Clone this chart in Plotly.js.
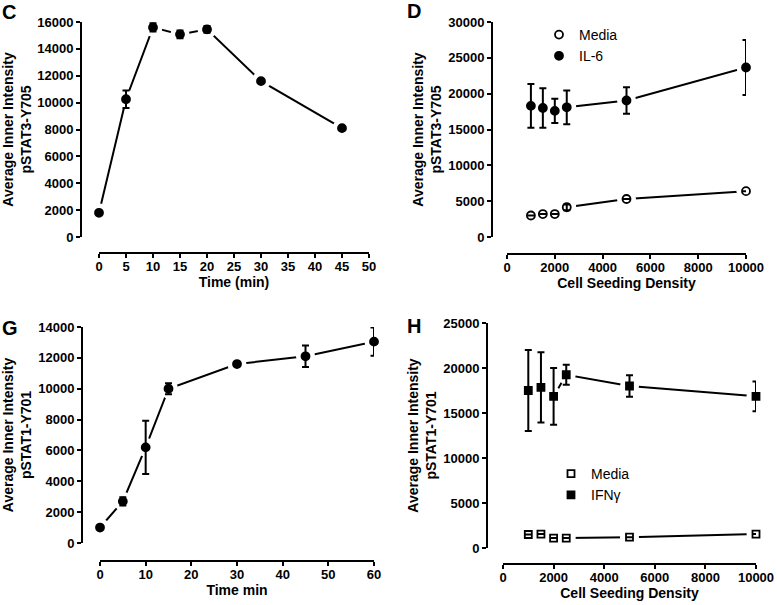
<!DOCTYPE html>
<html>
<head>
<meta charset="utf-8">
<script src="https://cdn.plot.ly/plotly-3.0.1.min.js"></script>
<style>
  html, body { margin: 0; padding: 0; background: white; }
  #myDiv { width: 777px; height: 605px; }
</style>
</head>
<body>
<div id="myDiv"></div>
<script>
// panel C: pSTAT3 time course
let timeC = [0, 5, 10, 15, 20, 30, 45];
let stat3Time = [1800, 10250, 15600, 15080, 15450, 11600, 8100];
let stat3TimeErr = [null, 650, 300, 280, 250, null, null];

// panel D / H: seeding density
let density = [1000, 1500, 2000, 2500, 5000, 10000];
let stat3Media = [3000, 3200, 3200, 4150, 5300, 6400];
let stat3MediaErr = [null, null, null, 400, null, null];
let stat3IL6 = [18300, 18000, 17600, 18100, 19050, 23650];
let stat3IL6Err = [3050, 2750, 1700, 2350, 1850, 3850];

// panel G: pSTAT1 time course
let timeG = [0, 5, 10, 15, 30, 45, 60];
let stat1Time = [1000, 2700, 6200, 10000, 11600, 12100, 13050];
let stat1TimeErr = [null, 270, 1730, 360, null, 700, 910];

// panel H
let stat1Media = [1500, 1550, 1100, 1100, 1200, 1550];
let stat1MediaErr = [null, null, null, null, null, null];
let stat1IFN = [17500, 17850, 16850, 19250, 18000, 16850];
let stat1IFNErr = [4500, 3900, 3150, 1100, 1200, 1650];

let fam = '"Liberation Sans", Arial, sans-serif';
let W = 777, H = 605;

function px(x) { return x / W; }
function py(y) { return (H - y) / H; }

// line plus big white dots, so the line stops short of each point
function lineTrace(x, y, xa, ya) {
    return {
        x: x, y: y, xaxis: xa, yaxis: ya,
        mode: 'lines+markers', type: 'scatter',
        line: {color: 'black', width: 2},
        marker: {symbol: 'circle', size: 19, color: 'white'},
        cliponaxis: false, showlegend: false, hoverinfo: 'skip'
    };
}

function markTrace(x, y, err, xa, ya, symbol, size, name, legend) {
    return {
        x: x, y: y, xaxis: xa, yaxis: ya,
        mode: 'markers', type: 'scatter',
        name: name || '',
        legend: legend || 'legend',
        showlegend: !!name,
        marker: {symbol: symbol, size: size, color: 'black', line: {color: 'black', width: 1.8}},
        error_y: {type: 'data', array: err, visible: true, color: 'black', thickness: 2, width: 3.5},
        cliponaxis: false
    };
}

let data = [
    lineTrace(timeC, stat3Time, 'x', 'y'),
    lineTrace(density, stat3Media, 'x2', 'y2'),
    lineTrace(density, stat3IL6, 'x2', 'y2'),
    lineTrace(timeG, stat1Time, 'x3', 'y3'),
    lineTrace(density, stat1Media, 'x4', 'y4'),
    lineTrace(density, stat1IFN, 'x4', 'y4'),

    markTrace(timeC, stat3Time, stat3TimeErr, 'x', 'y', 'circle', 8),
    markTrace(density, stat3Media, stat3MediaErr, 'x2', 'y2', 'circle-open', 8, 'Media', 'legend'),
    markTrace(density, stat3IL6, stat3IL6Err, 'x2', 'y2', 'circle', 8, 'IL-6', 'legend'),
    markTrace(timeG, stat1Time, stat1TimeErr, 'x3', 'y3', 'circle', 8),
    markTrace(density, stat1Media, stat1MediaErr, 'x4', 'y4', 'square-open', 7, 'Media', 'legend2'),
    markTrace(density, stat1IFN, stat1IFNErr, 'x4', 'y4', 'square', 7, 'IFNγ', 'legend2')
];

function axis(extra, title) {
    let a = {
        showline: true, linecolor: 'black', linewidth: 2,
        ticks: 'outside', ticklen: 4, tickwidth: 2, tickcolor: 'black',
        showgrid: false, zeroline: false, tickformat: 'd',
        tickfont: {family: fam, size: 13, weight: 'bold', color: 'black'},
        title: {text: title, font: {family: fam, size: 14, weight: 'bold', color: 'black'}, standoff: 2},
        anchor: 'free', fixedrange: true
    };
    return Object.assign(a, extra);
}

let yTitle3 = 'Average Inner Intensity<br>pSTAT3-Y705';
let yTitle1 = 'Average Inner Intensity<br>pSTAT1-Y701';

let layout = {
    width: W, height: H,
    margin: {l: 0, r: 0, t: 0, b: 0},
    paper_bgcolor: 'white', plot_bgcolor: 'white',
    font: {family: fam, color: 'black'},

    xaxis: axis({domain: [px(99), px(369)], range: [0, 50], dtick: 5, position: py(253), ticklabelstandoff: -3}, 'Time (min)'),
    yaxis: axis({domain: [py(237), py(22)], range: [0, 16000], dtick: 2000, position: px(81)}, yTitle3),

    xaxis2: axis({domain: [px(507), px(746)], range: [0, 10000], dtick: 2000, position: py(254), ticklabelstandoff: -3}, 'Cell Seeding Density'),
    yaxis2: axis({domain: [py(237), py(22)], range: [0, 30000], dtick: 5000, position: px(492)}, yTitle3),

    xaxis3: axis({domain: [px(100), px(374)], range: [0, 60], dtick: 10, position: py(561), ticklabelstandoff: -3}, 'Time min'),
    yaxis3: axis({domain: [py(543), py(327)], range: [0, 14000], dtick: 2000, position: px(82)}, yTitle1),

    xaxis4: axis({domain: [px(503), px(756)], range: [0, 10000], dtick: 2000, position: py(564), ticklabelstandoff: -3}, 'Cell Seeding Density'),
    yaxis4: axis({domain: [py(548), py(323)], range: [0, 25000], dtick: 5000, position: px(487)}, yTitle1),

    legend: {
        x: px(539), y: py(19), xanchor: 'left', yanchor: 'top',
        bgcolor: 'rgba(0,0,0,0)', font: {family: fam, size: 14, color: 'black'}
    },
    legend2: {
        x: px(551), y: py(458), xanchor: 'left', yanchor: 'top',
        bgcolor: 'rgba(0,0,0,0)', font: {family: fam, size: 14, color: 'black'}
    },

    annotations: [
        {text: 'C', x: px(1), y: py(12)},
        {text: 'D', x: px(406), y: py(11)},
        {text: 'G', x: px(1), y: py(328)},
        {text: 'H', x: px(406), y: py(326)}
    ].map(function (a) {
        return Object.assign(a, {
            xref: 'paper', yref: 'paper', xanchor: 'left', yanchor: 'middle', borderpad: 0,
            showarrow: false, font: {family: fam, size: 20, weight: 'bold', color: 'black'}
        });
    })
};

Plotly.newPlot('myDiv', data, layout, {displayModeBar: false, staticPlot: true});
</script>
</body>
</html>
